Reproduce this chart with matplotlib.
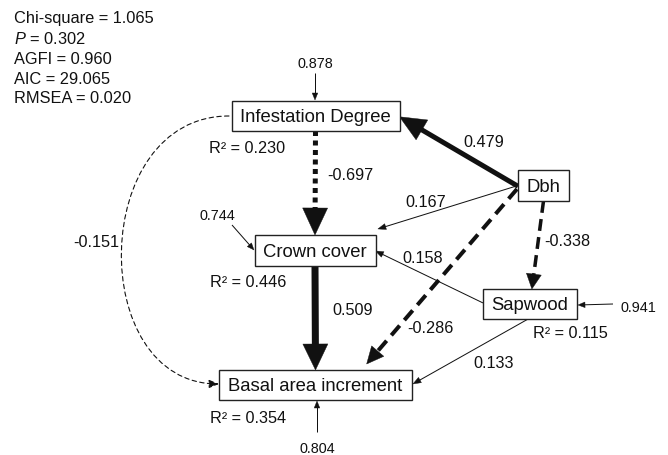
import matplotlib
matplotlib.use("Agg")
import matplotlib.pyplot as plt
import numpy as np
from matplotlib.patches import Rectangle, Polygon, FancyArrowPatch
from matplotlib.path import Path

plt.rcParams['font.family'] = ['Liberation Sans', 'DejaVu Sans']
plt.rcParams['mathtext.fontset'] = 'custom'
plt.rcParams['mathtext.rm'] = 'Liberation Sans'
plt.rcParams['mathtext.it'] = 'Liberation Sans:italic'

# ---------------- data ----------------
fit_labels = ["Chi-square", "$P$", "AGFI", "AIC", "RMSEA"]
fit_values = ["1.065", "0.302", "0.960", "29.065", "0.020"]

nodes = ["Infestation Degree", "Crown cover", "Basal area increment", "Dbh", "Sapwood"]
r2_values = {"Infestation Degree": "0.230", "Crown cover": "0.446",
             "Basal area increment": "0.354", "Sapwood": "0.115"}
error_values = {"Infestation Degree": "0.878", "Crown cover": "0.744",
                "Sapwood": "0.941", "Basal area increment": "0.804"}

edge_from = ["Dbh", "Infestation Degree", "Dbh", "Dbh", "Sapwood",
             "Crown cover", "Dbh", "Sapwood"]
edge_to = ["Infestation Degree", "Crown cover", "Crown cover", "Sapwood",
           "Crown cover", "Basal area increment", "Basal area increment",
           "Basal area increment"]
edge_coef = ["0.479", "-0.697", "0.167", "-0.338", "0.158", "0.509", "-0.286", "0.133"]
covariance_pair = ("Infestation Degree", "Basal area increment")
covariance_value = "-0.151"

# ---------------- layout (pixels) ----------------
box = {  # cx, cy, w, h
    "Infestation Degree": (315.5, 117, 168, 30),
    "Crown cover": (315, 251.5, 121, 31),
    "Basal area increment": (315.5, 386, 193, 30),
    "Dbh": (543.5, 186.5, 51, 31),
    "Sapwood": (530, 305, 94, 30),
}
# relative anchors (fx, fy) in half-sizes for start / end of each edge
edge_anchor = [
    ((-1.0, 0.05), (1.0, 0.05)),
    ((0.0, 1.0), (0.0, -1.0)),
    ((-1.0, 0.0), (1.04, -1.39)),
    ((0.0, 1.0), (0.04, -1.0)),
    ((-1.0, -0.07), (1.0, 0.03)),
    ((0.0, 1.0), (0.0, -1.0)),
    ((-1.04, 0.23), (0.53, -1.4)),
    ((-0.04, 1.0), (1.01, -0.07)),
]
# line width px, linestyle, head length px, head half-width px
edge_style = [
    (5.0, 'solid', 26, 11.5),
    (5.0, (0, (1.0, 0.9)), 27, 12.5),
    (1.0, 'solid', 8, 3),
    (3.5, (0, (3.4, 1.8)), 15, 7.5),
    (1.0, 'solid', 8, 3),
    (7.0, 'solid', 26, 12.5),
    (4.0, (0, (3.2, 1.8)), 17, 8),
    (1.0, 'solid', 8, 3),
]
label_pos = [(484, 142), (350, 175), (426, 202), (567, 241), (423, 258),
             (353, 310), (430, 328), (494, 363)]
r2_pos = {"Infestation Degree": (209, 148), "Crown cover": (210, 282),
          "Basal area increment": (210, 418), "Sapwood": (533, 333)}
err_text = {"Infestation Degree": (315, 63), "Crown cover": (217, 215),
            "Sapwood": (638, 307), "Basal area increment": (317, 448)}
err_arrow = {"Infestation Degree": ((315, 74), (315, 101)),
             "Crown cover": ((232, 226), (254, 251)),
             "Sapwood": ((613, 305), (578, 306)),
             "Basal area increment": ((317, 433), (317, 402))}

PX = 0.72  # points per pixel at dpi 100
INK = '#111111'

fig = plt.figure(figsize=(6.68, 4.56), dpi=100)
ax = fig.add_axes([0, 0, 1, 1])
ax.set_xlim(0, 668)
ax.set_ylim(456, 0)
ax.axis('off')


def anchor(name, fx, fy):
    cx, cy, w, h = box[name]
    return np.array([cx + fx * w / 2, cy + fy * h / 2])


def arrow(p0, p1, lw, ls, hl, hw):
    p0 = np.asarray(p0, float); p1 = np.asarray(p1, float)
    d = p1 - p0
    u = d / np.hypot(*d)
    n = np.array([-u[1], u[0]])
    base = p1 - u * hl
    end = p1 - u * hl * 0.85
    ax.plot([p0[0], end[0]], [p0[1], end[1]], color=INK, lw=lw * PX,
            linestyle=ls, solid_capstyle='butt', dash_capstyle='butt', zorder=2)
    ax.add_patch(Polygon([p1, base + n * hw, base - n * hw], closed=True,
                         facecolor=INK, edgecolor=INK, lw=0.3, zorder=3))


# boxes
for name in nodes:
    cx, cy, w, h = box[name]
    ax.add_patch(Rectangle((cx - w / 2, cy - h / 2), w, h, facecolor='white',
                           edgecolor='#222222', lw=1.0, zorder=4))
    ax.text(cx, cy + 1, name, ha='center', va='center', fontsize=13.3,
            color=INK, zorder=5)

# path edges
for i in range(len(edge_from)):
    (sa, ea) = edge_anchor[i]
    p0 = anchor(edge_from[i], *sa)
    p1 = anchor(edge_to[i], *ea)
    lw, ls, hl, hw = edge_style[i]
    arrow(p0, p1, lw, ls, hl, hw)
    ax.text(label_pos[i][0], label_pos[i][1] + 1, edge_coef[i], ha='center',
            va='center', fontsize=11.7, color=INK)

# covariance curve
a_start = anchor(covariance_pair[0], -1.03, 0.0)
a_end = anchor(covariance_pair[1], -1.0, -0.07)
verts = [tuple(a_start), (89, a_start[1]), (86, a_end[1]), tuple(a_end)]
path = Path(verts, [Path.MOVETO, Path.CURVE4, Path.CURVE4, Path.CURVE4])
ax.add_patch(FancyArrowPatch(path=path, arrowstyle='-|>,head_length=6,head_width=2.5',
                             mutation_scale=1, color=INK, lw=0.8,
                             linestyle=(0, (4, 3)), zorder=2))
ax.text(96, 243, covariance_value, ha='center', va='center', fontsize=11.7, color=INK)

# R2 labels
for name, val in r2_values.items():
    x, y = r2_pos[name]
    ax.text(x, y + 1, "R\u00b2 = " + val, ha='left', va='center', fontsize=11.7, color=INK)

# error terms
for name, val in error_values.items():
    x, y = err_text[name]
    ax.text(x, y + 1, val, ha='center', va='center', fontsize=10.4, color=INK)
    s, e = err_arrow[name]
    arrow(s, e, 1.0, 'solid', 7, 2.8)

# fit statistics
for k, (lab, val) in enumerate(zip(fit_labels, fit_values)):
    ax.text(14, 19 + 20 * k, lab + " = " + val, ha='left', va='center',
            fontsize=11.8, color=INK)

fig.savefig("out.png", dpi=100)
